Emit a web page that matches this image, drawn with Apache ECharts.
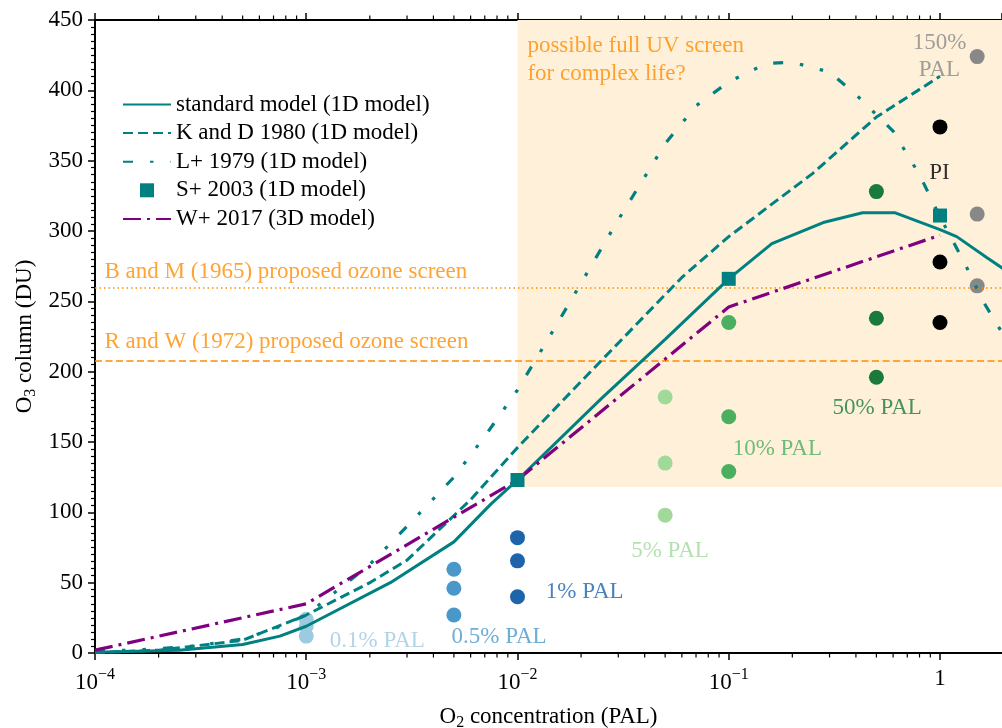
<!DOCTYPE html>
<html><head><meta charset="utf-8">
<script src="https://cdn.jsdelivr.net/npm/echarts@6/dist/echarts.min.js"></script>
<style>html,body{margin:0;padding:0;background:#fff}#c{width:1002px;height:728px}</style>
</head><body><div id="c"></div>
<script>
// ---------- data ----------
const stdX = [1e-4, 2.5e-4, 5e-4, 7.5e-4, 1e-3, 2.5e-3, 5e-3, 7.5e-3, 1e-2, 2.5e-2, 5e-2, 1e-1, 1.6e-1, 2.8e-1, 4.3e-1, 6.1e-1, 1, 1.2, 1.67, 2];
const stdY = [0.5, 2, 6, 12, 19, 50, 79, 106, 123, 181, 223, 266, 291, 306, 313, 313, 301, 296, 281, 273];

const kdX = [1e-4, 2e-4, 5e-4, 1e-3, 2e-3, 3e-3, 6e-3, 1e-2, 2e-2, 6e-2, 1e-1, 2.5e-1, 5e-1, 1];
const kdY = [0.3, 2, 9, 27, 50, 66, 109, 146, 193, 267, 296, 341, 381, 410];

const lpX = [1e-4, 2e-4, 3e-4, 5e-4, 7e-4, 1e-3, 1.5e-3, 2e-3, 3e-3, 5e-3, 7e-3, 1e-2, 1.5e-2, 2e-2, 3e-2, 5e-2, 7e-2, 1e-1, 1.5e-1, 2e-1, 3e-1, 4e-1, 6e-1, 8e-1, 1, 1.3, 1.6, 2];
const lpY = [1, 3, 5, 10, 17, 27, 48, 63, 90, 125, 154, 187, 231, 263, 308, 362, 389, 406, 419, 420, 413, 397, 371, 340, 310, 278, 250, 226];

const wX = [1e-4, 1e-3, 1e-2, 1e-1, 1];
const wY = [2, 35, 123, 246, 297];

const sX = [1e-2, 1e-1, 1];
const sY = [123, 266, 311];

const groupNames = ['0.1% PAL', '0.5% PAL', '1% PAL', '5% PAL', '10% PAL', '50% PAL', 'PI', '150%\nPAL'];
const groupX = [1e-3, 5e-3, 1e-2, 5e-2, 1e-1, 5e-1, 1, 1.5];
const groupY = [
  [24, 19, 12],
  [59.5, 46, 27],
  [82, 65.5, 40],
  [182, 135, 98],
  [235, 168, 129],
  [328, 238, 196],
  [374, 278, 235],
  [424, 312, 261]
];
const groupColors = ['#9ecae1', '#4a98c9', '#1d64ab', '#a1d99b', '#4aaf5e', '#1a7a3c', '#000000', '#888888'];
// label anchor (data coords) and alignment for group labels
const groupLabelAt = [[1.3e-3, 8.5], [4.9e-3, 11.4], [1.37e-2, 42.7], [3.47e-2, 72], [1.05e-1, 145], [3.12e-1, 174], [1, 341], [1, 424]];
const groupLabelAlign = ['left', 'left', 'left', 'left', 'left', 'left', 'center', 'center'];

const bmLevel = 260, rwLevel = 208;
const screenBox = {x0: 1e-2, y0: 118, y1: 450};
const notes = ['B and M (1965) proposed ozone screen', 'R and W (1972) proposed ozone screen', 'possible full UV screen\nfor complex life?'];
const noteAt = [[1.115e-4, 270.5], [1.115e-4, 221], [1.12e-2, 421.5]];

const xMin = 1e-4, xMax = 1.966, yMin = 0, yMax = 450, yStep = 50;
const minorMult = [2, 3, 4, 5, 6, 7, 8, 9];
const decades = [-4, -3, -2, -1, 0];

const seriesNames = ['standard model (1D model)', 'K and D 1980 (1D model)', 'L+ 1979 (1D model)', 'S+ 2003 (1D model)', 'W+ 2017 (3D model)'];

// ---------- build ----------
const FONT = '"Liberation Serif", "Times New Roman", serif';
const TEAL = '#008080', PURPLE = '#800080', ORANGE = '#ff8c00';
const zip = (xs, ys) => xs.map((x, i) => [x, ys[i]]);

const minorTicks = [];
decades.forEach(d => minorMult.forEach(m => { const v = m * Math.pow(10, d); if (v < xMax) minorTicks.push([v, 0]); }));

function xLabel(v) {
  const l = Math.log10(v), n = Math.round(l);
  if (Math.abs(l - n) > 1e-6) return '';
  if (n === 0) return '1';
  return '10{sup|' + (n < 0 ? '\u2212' : '') + Math.abs(n) + '}';
}

const series = [];
// shaded region + reference lines
series.push({
  type: 'line', data: [], z: 1, silent: true,
  markArea: {
    silent: true,
    itemStyle: {color: '#fff1d9'},
    data: [[{coord: [screenBox.x0, screenBox.y0]}, {coord: [xMax, screenBox.y1]}]]
  },
  markLine: {
    silent: true, symbol: ['none', 'none'], label: {show: false},
    data: [
      {yAxis: bmLevel, lineStyle: {color: ORANGE, width: 1.5, type: [1.5, 3]}},
      {yAxis: rwLevel, lineStyle: {color: ORANGE, width: 1.5, type: [7, 3.5]}}
    ]
  }
});
series.push({name: seriesNames[0], type: 'line', data: zip(stdX, stdY), symbol: 'none', z: 5,
  lineStyle: {color: TEAL, width: 3}, itemStyle: {color: TEAL}});
series.push({name: seriesNames[1], type: 'line', data: zip(kdX, kdY), symbol: 'none', z: 5,
  lineStyle: {color: TEAL, width: 3, type: [10, 5]}, itemStyle: {color: TEAL}});
series.push({name: seriesNames[2], type: 'line', data: zip(lpX, lpY), symbol: 'none', z: 5,
  lineStyle: {color: TEAL, width: 3.2, type: [10, 17, 3.5, 17, 3.5, 17]}, itemStyle: {color: TEAL}});
series.push({name: seriesNames[4], type: 'line', data: zip(wX, wY), symbol: 'none', z: 6,
  lineStyle: {color: PURPLE, width: 3.2, type: [18, 6, 3, 6]}, itemStyle: {color: PURPLE}});
series.push({name: seriesNames[3], type: 'scatter', data: zip(sX, sY), symbol: 'rect', symbolSize: 14, z: 7,
  itemStyle: {color: TEAL, opacity: 1}});

groupNames.forEach((g, i) => {
  series.push({
    type: 'scatter', symbol: 'circle', symbolSize: 15, z: 4, silent: true,
    data: groupY[i].map(y => [groupX[i], y]),
    itemStyle: {color: groupColors[i], opacity: 1}
  });
});

// text annotations
const annData = [];
groupNames.forEach((g, i) => annData.push({
  value: groupLabelAt[i],
  label: {formatter: g, color: groupColors[i], align: groupLabelAlign[i], lineHeight: 27}
}));
notes.forEach((t, i) => annData.push({
  value: noteAt[i],
  label: {formatter: t, color: ORANGE, align: 'left', lineHeight: 28}
}));
series.push({
  type: 'scatter', symbolSize: 1, z: 8, silent: true,
  itemStyle: {color: 'transparent'},
  data: annData,
  label: {show: true, position: [0, 0], verticalAlign: 'middle', fontFamily: FONT, fontSize: 23}
});

// minor x ticks (top & bottom)
series.push({
  type: 'custom', silent: true, z: 20, clip: false,
  data: minorTicks,
  renderItem: (params, api) => {
    const x = api.value(0);
    const b = api.coord([x, yMin]);
    const t = api.coord([x, yMax]);
    return {type: 'group', children: [
      {type: 'line', shape: {x1: b[0], y1: b[1], x2: b[0], y2: b[1] + 4.5}, style: {stroke: '#000', lineWidth: 1.2}},
      {type: 'line', shape: {x1: t[0], y1: t[1], x2: t[0], y2: t[1] - 4.5}, style: {stroke: '#000', lineWidth: 1.2}}
    ]};
  }
});

const supRich = {sup: {fontSize: 16, fontFamily: FONT, color: '#000', padding: [0, 0, 16, 0]}};
const subRich = {sub: {fontSize: 16, fontFamily: FONT, color: '#000', padding: [12, 0, 0, 0]}};

const option = {
  animation: false,
  backgroundColor: '#fff',
  textStyle: {fontFamily: FONT},
  grid: {left: 95, right: 0, top: 20, bottom: 75, containLabel: false, outerBoundsMode: 'none'},
  legend: {
    orient: 'vertical', left: 117, top: 88, itemWidth: 48, itemHeight: 14, itemGap: 5.6,
    itemStyle: {opacity: 0},
    data: [seriesNames[0], seriesNames[1], seriesNames[2],
      {name: seriesNames[3], icon: 'path://M0,0L14,0L14,14L0,14Z', itemStyle: {opacity: 1}}, seriesNames[4]],
    textStyle: {fontFamily: FONT, fontSize: 23, color: '#000'},
    selectedMode: false
  },
  xAxis: [{
    type: 'log', logBase: 10, min: xMin, max: xMax, position: 'bottom',
    axisLine: {lineStyle: {color: '#000', width: 2}},
    axisTick: {length: 7, lineStyle: {color: '#000', width: 1.5}},
    splitLine: {show: false},
    axisLabel: {formatter: xLabel, fontFamily: FONT, fontSize: 23, color: '#000', margin: 14, rich: supRich,
      showMaxLabel: false},
    name: 'O{sub|2} concentration (PAL)', nameLocation: 'middle', nameGap: 50, nameMoveOverlap: false,
    nameTextStyle: {fontFamily: FONT, fontSize: 23, color: '#000', rich: subRich}
  }, {
    type: 'log', logBase: 10, min: xMin, max: xMax, position: 'top',
    axisLine: {lineStyle: {color: '#000', width: 2}},
    axisTick: {length: 7, lineStyle: {color: '#000', width: 1.5}},
    splitLine: {show: false},
    axisLabel: {show: false}
  }],
  yAxis: [{
    type: 'value', min: yMin, max: yMax, interval: yStep,
    axisLine: {show: true, lineStyle: {color: '#000', width: 2}},
    axisTick: {show: true, length: 7, lineStyle: {color: '#000', width: 1.5}},
    minorTick: {show: true, splitNumber: 10, length: 4, lineStyle: {color: '#000', width: 1.2}},
    splitLine: {show: false},
    axisLabel: {fontFamily: FONT, fontSize: 23, color: '#000', margin: 12},
    name: 'O{sub|3} column (DU)', nameLocation: 'middle', nameGap: 56, nameRotate: 90, nameMoveOverlap: false,
    nameTextStyle: {fontFamily: FONT, fontSize: 23, color: '#000', rich: subRich}
  }],
  series: series
};

const chart = echarts.init(document.getElementById('c'), null, {renderer: 'canvas'});
chart.setOption(option);
</script>
</body></html>
